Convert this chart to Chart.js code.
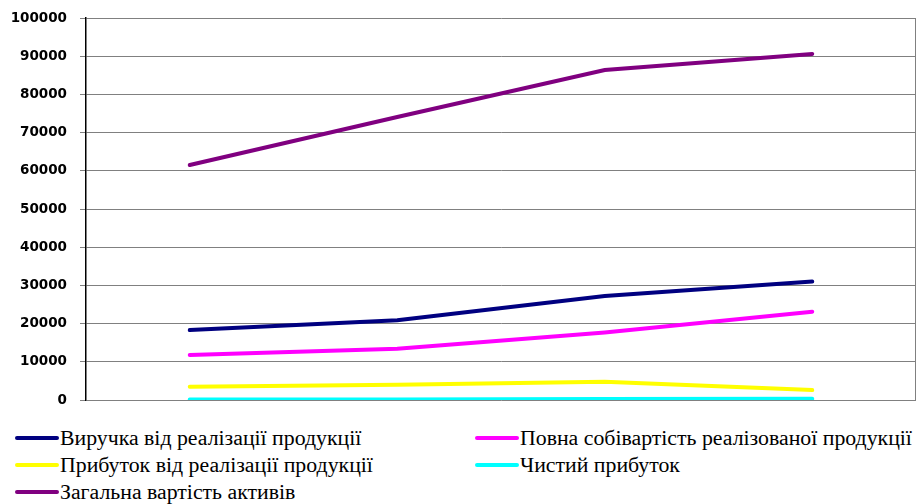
<!DOCTYPE html>
<html>
<head>
<meta charset="utf-8">
<script src="https://cdn.jsdelivr.net/npm/chart.js@4/dist/chart.umd.min.js"></script>
<style>
  html, body { margin: 0; padding: 0; background: #fff; }
  #wrap { position: relative; width: 917px; height: 504px; }
  #chartBox { position: absolute; left: 0; top: 0; width: 917px; height: 410px; }
  #legend { position: absolute; left: 15px; top: 425px; width: 902px;
    display: grid; grid-template-columns: 460px 442px; row-gap: 1px;
    font-family: "Liberation Serif", "Times New Roman", serif; font-size: 20px; color: #000; }
  .item { display: flex; align-items: center; height: 26px; white-space: nowrap; }
  .swatch { flex: none; width: 44px; height: 3.5px; margin-right: 1px; border-radius: 2px; }
  .label { display: inline-block; transform: scaleX(1.09); transform-origin: left center; }
</style>
</head>
<body>
<div id="wrap">
  <div id="chartBox"><canvas id="c"></canvas></div>
  <div id="legend"></div>
</div>
<script>
// Periods (unlabelled on the axis)
const periods = ['1', '2', '3', '4'];

// Indicators, thousand UAH
const revenue     = [18300, 20900, 27200, 31000];
const fullCost    = [11800, 13400, 17700, 23100];
const salesProfit = [3500, 4000, 4800, 2600];
const netProfit   = [150, 120, 250, 350];
const totalAssets = [61500, 74100, 86400, 90600];

const yTicks = { min: 0, max: 100000, step: 10000 };

const seriesNames = [
  'Виручка від реалізації продукції',
  'Повна собівартість реалізованої продукції',
  'Прибуток від реалізації продукції',
  'Чистий прибуток',
  'Загальна вартість активів'
];
const seriesColors = ['#000080', '#FF00FF', '#FFFF00', '#00FFFF', '#800080'];
const seriesData = [revenue, fullCost, salesProfit, netProfit, totalAssets];

const rightBorder = {
  id: 'rightBorder',
  afterDraw(chart) {
    const { ctx, chartArea } = chart;
    ctx.save();
    ctx.strokeStyle = '#808080';
    ctx.lineWidth = 1;
    ctx.beginPath();
    ctx.moveTo(chartArea.right - 0.5, chartArea.top);
    ctx.lineTo(chartArea.right - 0.5, chartArea.bottom);
    ctx.stroke();
    ctx.restore();
  }
};

const chart = new Chart(document.getElementById('c'), {
  type: 'line',
  data: {
    labels: periods,
    datasets: seriesData.map((d, i) => ({
      label: seriesNames[i],
      data: d,
      borderColor: seriesColors[i],
      backgroundColor: seriesColors[i],
      borderWidth: 4,
      pointRadius: 0,
      tension: 0,
      borderCapStyle: 'round'
    }))
  },
  options: {
    responsive: true,
    maintainAspectRatio: false,
    animation: false,
    layout: { padding: { top: 18, right: 1, bottom: 10, left: 0 } },
    plugins: { legend: { display: false }, tooltip: { enabled: false } },
    scales: {
      x: { display: false, offset: true },
      y: {
        min: yTicks.min, max: yTicks.max,
        afterFit(s) { s.width = 86; s.paddingTop = 0; s.paddingBottom = 0; },
        ticks: {
          stepSize: yTicks.step,
          padding: 13,
          color: '#000',
          font: { family: 'DejaVu Sans', size: 13.5, weight: 'bold' },
          callback: v => String(v)
        },
        grid: { color: '#808080', lineWidth: 1, tickLength: 6, drawTicks: true },
        border: { color: '#000', width: 1.5 }
      }
    }
  },
  plugins: [rightBorder]
});

// Two-column legend built from the chart's datasets
const legend = document.getElementById('legend');
chart.data.datasets.forEach(ds => {
  const item = document.createElement('div');
  item.className = 'item';
  const sw = document.createElement('span');
  sw.className = 'swatch';
  sw.style.background = ds.borderColor;
  const t = document.createElement('span');
  t.className = 'label';
  t.textContent = ds.label;
  item.appendChild(sw);
  item.appendChild(t);
  legend.appendChild(item);
});
</script>
</body>
</html>
